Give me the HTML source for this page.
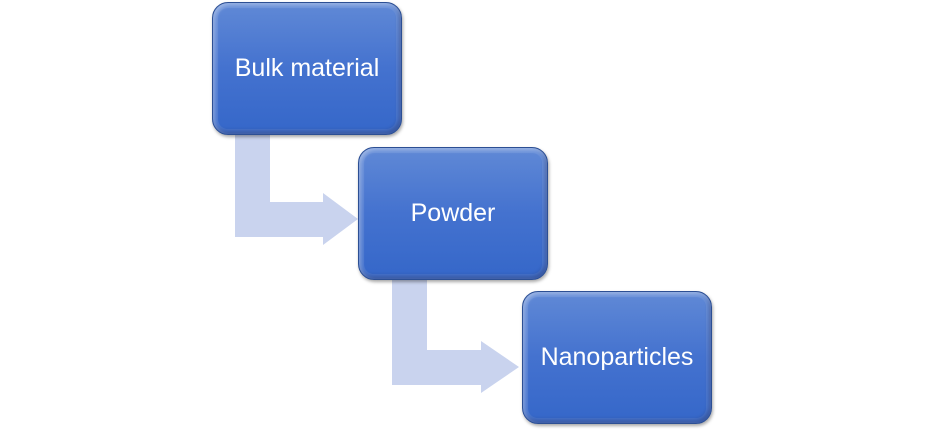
<!DOCTYPE html>
<html><head><style>
body{margin:0;width:929px;height:436px;background:#fff;position:relative;overflow:hidden;font-family:"Liberation Sans",sans-serif}
.b{position:absolute;width:188px;height:131px;border-radius:16px;border:1px solid #2c4f94;
background:linear-gradient(#6089d6,#4472cf 50%,#3567c9);
box-shadow:inset 0 0 0 5px rgba(255,255,255,0.08),inset 2px 2px 4px rgba(255,255,255,.35),inset -2px -3px 4px rgba(0,0,40,.3),1px 2px 3px rgba(0,0,0,.35);
color:#fff;font-size:25px;display:flex;align-items:center;justify-content:center}
</style></head><body>
<svg width="929" height="436" style="position:absolute;left:0;top:0">
<path d="M235 134H270V202H323V193L358 219L323 245V237H235Z" fill="#c9d3ee"/>
<path d="M392 280H427V350H481V341L519 367L481 393V385H392Z" fill="#c9d3ee"/>
</svg>
<div class="b" style="left:212px;top:2px">Bulk material</div>
<div class="b" style="left:358px;top:147px">Powder</div>
<div class="b" style="left:522px;top:291px">Nanoparticles</div>
</body></html>
